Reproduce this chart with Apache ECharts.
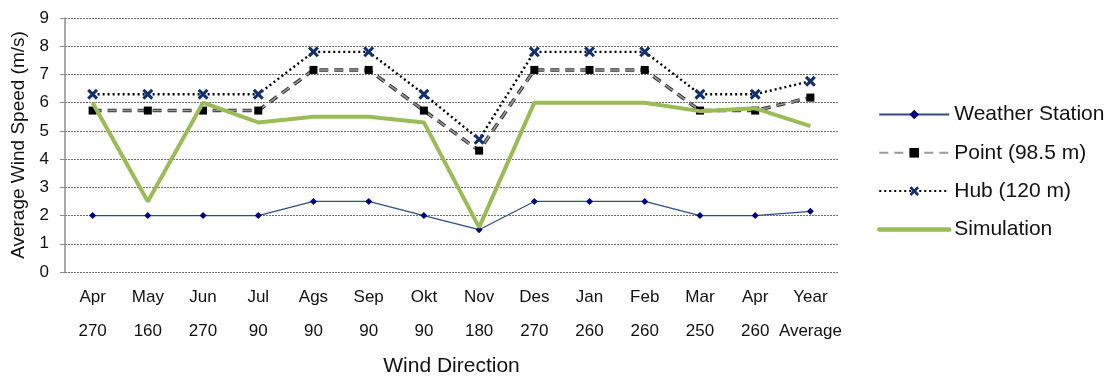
<!DOCTYPE html>
<html>
<head>
<meta charset="utf-8">
<script src="https://cdn.jsdelivr.net/npm/echarts@6/dist/echarts.min.js"></script>
<style>
  html, body { margin: 0; padding: 0; background: #fff; }
  #chart { width: 1113px; height: 381px; }
</style>
</head>
<body>
<div id="chart"></div>
<script>
// Months and prevailing wind direction for each column
const months = ['Apr', 'May', 'Jun', 'Jul', 'Ags', 'Sep', 'Okt', 'Nov', 'Des', 'Jan', 'Feb', 'Mar', 'Apr', 'Year'];
const directions = ['270', '160', '270', '90', '90', '90', '90', '180', '270', '260', '260', '250', '260', 'Average'];

// Average wind speed (m/s)
const weatherStation = [2.0, 2.0, 2.0, 2.0, 2.5, 2.5, 2.0, 1.5, 2.5, 2.5, 2.5, 2.0, 2.0, 2.15];
const point985 = [5.72, 5.72, 5.72, 5.72, 7.16, 7.16, 5.72, 4.3, 7.16, 7.16, 7.16, 5.72, 5.72, 6.18];
const hub120 = [6.3, 6.3, 6.3, 6.3, 7.8, 7.8, 6.3, 4.7, 7.8, 7.8, 7.8, 6.3, 6.3, 6.76];
const simulation = [6.0, 2.5, 6.0, 5.3, 5.5, 5.5, 5.3, 1.58, 6.0, 6.0, 6.0, 5.7, 5.8, 5.17];

const categories = months.map((m, i) => m + '\n' + directions[i]);

const FONT = 'Liberation Sans, Arial, sans-serif';
// bold "x" marker for the hub-height series
const crossPath = 'path://M0,2 L2,0 L5,3 L8,0 L10,2 L7,5 L10,8 L8,10 L5,7 L2,10 L0,8 L3,5 Z';
const pointDash = [9, 6];

const chart = echarts.init(document.getElementById('chart'), null, { renderer: 'canvas' });
chart.setOption({
  animation: false,
  backgroundColor: '#fff',
  textStyle: { fontFamily: FONT },
  grid: { left: 65, right: 275, top: 18, bottom: 109, containLabel: false, outerBoundsMode: 'none' },
  legend: {
    orient: 'vertical',
    left: 872,
    top: 99,
    itemWidth: 70,
    itemHeight: 12,
    itemGap: 17.3,
    textStyle: { fontFamily: FONT, fontSize: 21, color: '#111' },
    data: [
      'Weather Station',
      'Point (98.5 m)',
      'Hub (120 m)',
      { name: 'Simulation', itemStyle: { opacity: 0 }, lineStyle: { width: 4.5, cap: 'round' } }
    ]
  },
  xAxis: {
    type: 'category',
    data: categories,
    boundaryGap: true,
    axisLine: { show: false },
    axisTick: { show: false },
    axisLabel: {
      interval: 0,
      margin: 8,
      fontFamily: FONT,
      fontSize: 17,
      color: '#111',
      lineHeight: 34
    },
    name: 'Wind Direction',
    nameLocation: 'middle',
    nameGap: 84,
    nameTextStyle: { fontFamily: FONT, fontSize: 21, color: '#111' }
  },
  yAxis: {
    type: 'value',
    min: 0,
    max: 9,
    interval: 1,
    axisLine: { show: true, lineStyle: { color: '#8c8c8c', width: 1.5 } },
    axisTick: { show: true, length: 5, lineStyle: { color: '#8c8c8c' } },
    axisLabel: { fontFamily: FONT, fontSize: 17, color: '#111', margin: 16 },
    splitLine: { show: true, lineStyle: { color: '#6e6e6e', type: [2, 1], width: 1 } },
    name: 'Average Wind Speed (m/s)',
    nameLocation: 'middle',
    nameGap: 29,
    nameTextStyle: { fontFamily: FONT, fontSize: 19, color: '#111' }
  },
  series: [
    {
      name: 'Weather Station',
      type: 'line',
      data: weatherStation,
      symbol: 'diamond',
      symbolSize: 7,
      itemStyle: { color: '#000080' },
      lineStyle: { color: '#2f4e7e', width: 1.2 },
      z: 3
    },
    {
      // light core of the outlined dash, carries the square markers
      name: 'Point (98.5 m)',
      type: 'line',
      data: point985,
      symbol: 'rect',
      symbolSize: 8,
      itemStyle: { color: '#000' },
      lineStyle: { color: '#9a9a9a', width: 1.6, type: pointDash },
      z: 2.5
    },
    {
      // dark outline of the dash
      name: 'Point (98.5 m)',
      type: 'line',
      data: point985,
      symbol: 'none',
      lineStyle: { color: '#333', width: 3.6, type: pointDash },
      z: 2
    },
    {
      name: 'Hub (120 m)',
      type: 'line',
      data: hub120,
      symbol: crossPath,
      symbolSize: 11,
      itemStyle: { color: '#13306e' },
      lineStyle: { color: '#000', width: 2.4, type: [2, 3] },
      z: 2.6
    },
    {
      name: 'Simulation',
      type: 'line',
      data: simulation,
      showSymbol: false,
      symbol: 'none',
      itemStyle: { color: '#9bbb59' },
      lineStyle: { color: '#9bbb59', width: 4 },
      z: 4
    }
  ]
});
</script>
</body>
</html>
